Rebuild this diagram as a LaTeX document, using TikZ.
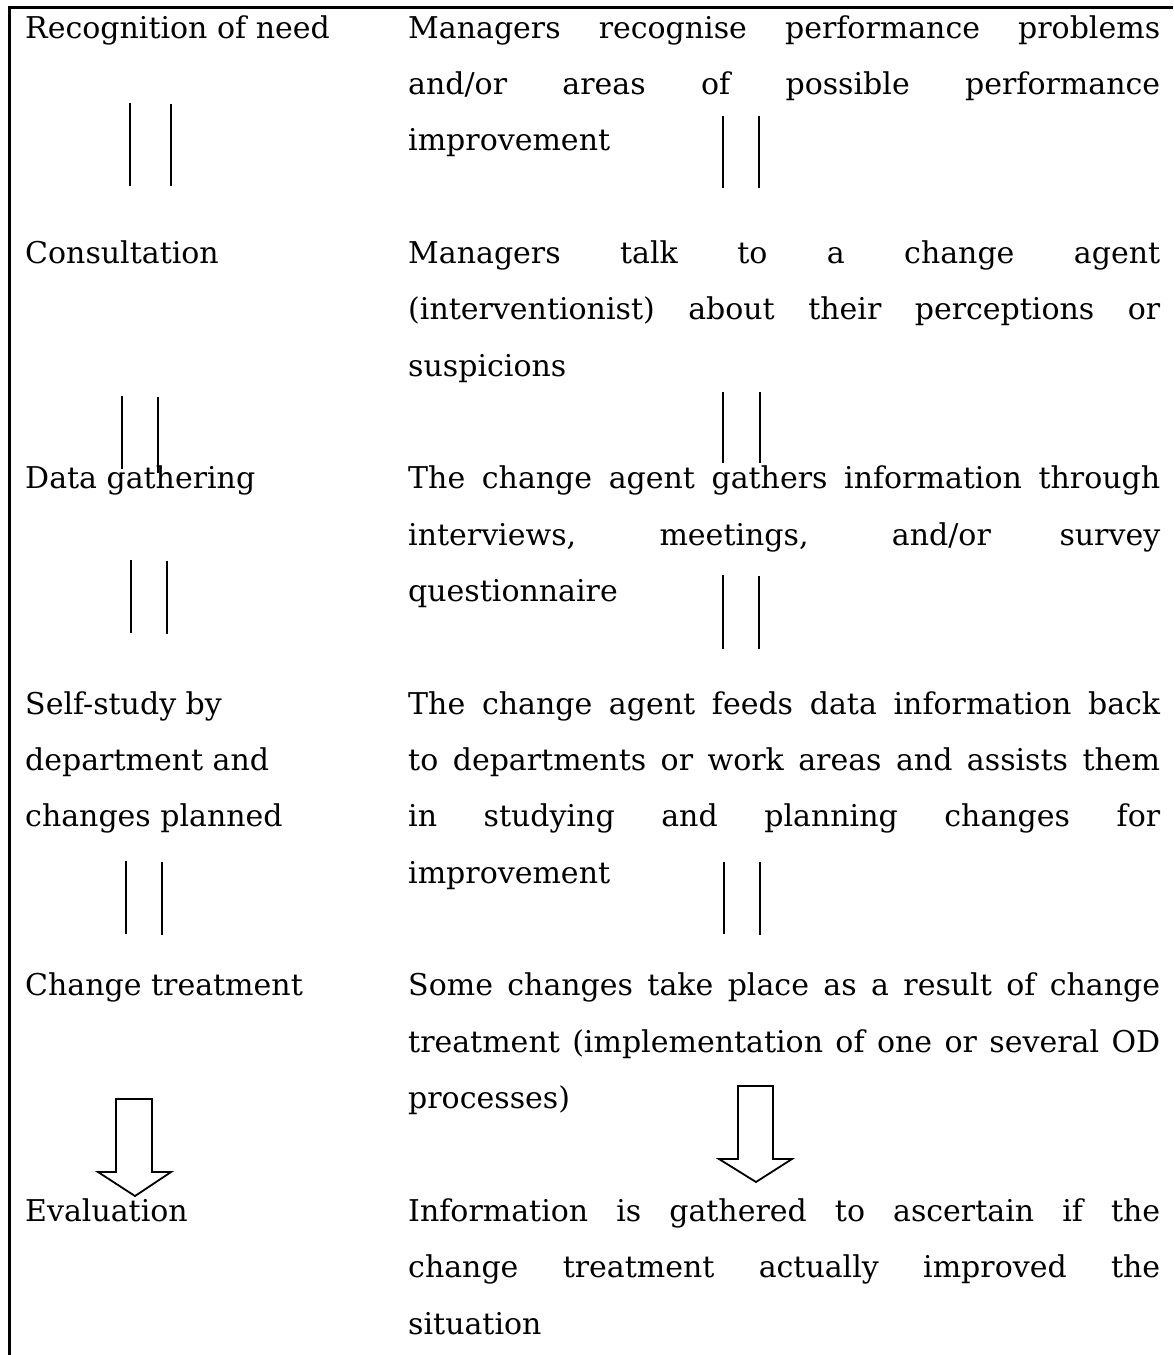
\documentclass[tikz,border=0pt]{standalone}
\usepackage{fontspec}
\setmainfont{DejaVu Serif}
\begin{document}
\begin{tikzpicture}[x=1pt,y=-1pt,
  txt/.style={anchor=base west,inner sep=0pt,font=\fontsize{30}{30}\selectfont},
  pair/.style={line width=2pt},
  frame/.style={line width=3pt},
  blockarrow/.style={line width=1.8pt,line join=miter,fill=white}]
\useasboundingbox (0,0) rectangle (1173,1355);
% frame
\draw[frame] (9,1355) -- (9,7) -- (1173,7);
% left column: stages
\def\lh{56.35}
\newcommand{\Lbl}[3]{\node[txt] (#1) at (25,{38+\lh*#2}) {#3};}
\newcommand{\Rjl}[3]{\node[txt] (#1) at (408,{38+\lh*#2}) {\makebox[752pt][s]{#3}};}
\newcommand{\Rll}[3]{\node[txt] (#1) at (408,{38+\lh*#2}) {#3};}
\Lbl{s1}{0}{Recognition of need}
\Lbl{s2}{4}{Consultation}
\Lbl{s3}{8}{Data gathering}
\Lbl{s4a}{12}{Self-study by}
\Lbl{s4b}{13}{department and}
\Lbl{s4c}{14}{changes planned}
\Lbl{s5}{17}{Change treatment}
\Lbl{s6}{21}{Evaluation}
% right column: descriptions
\Rjl{d1a}{0}{Managers recognise performance problems}
\Rjl{d1b}{1}{and/or areas of possible performance}
\Rll{d1c}{2}{improvement}
\Rjl{d2a}{4}{Managers talk to a change agent}
\Rjl{d2b}{5}{(interventionist) about their perceptions or}
\Rll{d2c}{6}{suspicions}
\Rjl{d3a}{8}{The change agent gathers information through}
\Rjl{d3b}{9}{interviews, meetings, and/or survey}
\Rll{d3c}{10}{questionnaire}
\Rjl{d4a}{12}{The change agent feeds data information back}
\Rjl{d4b}{13}{to departments or work areas and assists them}
\Rjl{d4c}{14}{in studying and planning changes for}
\Rll{d4d}{15}{improvement}
\Rjl{d5a}{17}{Some changes take place as a result of change}
\Rjl{d5b}{18}{treatment (implementation of one or several OD}
\Rll{d5c}{19}{processes)}
\Rjl{d6a}{21}{Information is gathered to ascertain if the}
\Rjl{d6b}{22}{change treatment actually improved the}
\Rll{d6c}{23}{situation}
% double-line links between stages
\draw[pair] (130,103) -- (130,186) (171,104) -- (171,186);
\draw[pair] (723,116) -- (723,188) (759,116) -- (759,188);
\draw[pair] (122,396) -- (122,469) (158,397) -- (158,473);
\draw[pair] (723,392) -- (723,463) (760,392) -- (760,463);
\draw[pair] (131,560) -- (131,633) (167,561) -- (167,634);
\draw[pair] (723,575) -- (723,649) (759,576) -- (759,649);
\draw[pair] (126,861) -- (126,934) (162,862) -- (162,935);
\draw[pair] (724,862) -- (724,934) (760,862) -- (760,935);
% block arrows into the evaluation stage
\draw[blockarrow] (116,1099) -- (152,1099) -- (152,1172) -- (171,1172) -- (135,1196)
  -- (98,1172) -- (116,1172) -- cycle;
\draw[blockarrow] (738,1086) -- (773,1086) -- (773,1159) -- (792,1159) -- (756,1182)
  -- (719,1159) -- (738,1159) -- cycle;
\end{tikzpicture}
\end{document}
